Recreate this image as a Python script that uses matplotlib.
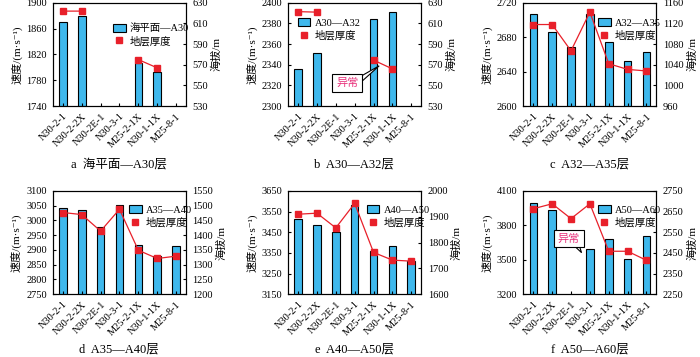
import matplotlib
matplotlib.use("Agg")
import matplotlib.pyplot as plt
from matplotlib.patches import Patch, Polygon
from matplotlib.lines import Line2D
import numpy as np

plt.rcParams['font.family'] = ['Liberation Serif', 'Noto Sans CJK SC', 'DejaVu Sans']
plt.rcParams['axes.unicode_minus'] = False

nan = np.nan

# Скважины
wells = ['N30-2-1', 'N30-2-2X', 'N30-2E-1', 'N30-3-1', 'M25-2-1X', 'N30-1-1X', 'M25-8-1']

# Скорость (левая ось) по слоям
speed_a = [1870, 1880, nan, nan, 1807, 1793, nan]
speed_b = [2336, 2351, nan, nan, 2384, 2391, nan]
speed_c = [2707, 2686, 2669, 2707, 2674, 2652, 2663]
speed_d = [3043, 3036, 2979, 3053, 2917, 2881, 2914]
speed_e = [3515, 3484, 3451, 3582, 3360, 3383, 3310]
speed_f = [3997, 3938, nan, 3590, 3678, 3508, 3704]

# Высота / толщина слоя (правая ось)
elev_a = [622, 622, nan, nan, 575, 567, nan]
elev_b = [621.5, 621, nan, nan, 574.5, 566, nan]
elev_c = [1118, 1118, 1067, 1142, 1042, 1031, 1028]
elev_d = [1477, 1470, 1414, 1488, 1349, 1321, 1329]
elev_e = [1910, 1914, 1857, 1952, 1762, 1732, 1728]
elev_f = [2664, 2688, 2616, 2688, 2458, 2458, 2414]

series_names = ['海平面—A30', 'A30—A32', 'A32—A35', 'A35—A40', 'A40—A50', 'A50—A60']
captions = ['a  海平面—A30层', 'b  A30—A32层', 'c  A32—A35层',
            'd  A35—A40层', 'e  A40—A50层', 'f  A50—A60层']

left_lims = [(1740, 1900, 40), (2300, 2400, 20), (2600, 2720, 40),
             (2750, 3100, 50), (3150, 3650, 100), (3200, 4100, 300)]
right_lims = [(530, 630, 20), (530, 630, 20), (960, 1160, 40),
              (1200, 1550, 50), (1600, 2000, 100), (2250, 2750, 100)]

speeds = [speed_a, speed_b, speed_c, speed_d, speed_e, speed_f]
elevs = [elev_a, elev_b, elev_c, elev_d, elev_e, elev_f]

lefts = [0.075, 0.411, 0.747]
bottoms = [0.703, 0.176]
w, h = 0.19, 0.289
legend_pos = [(0.44, 0.82), (0.06, 0.87), (0.55, 0.87),
              (0.56, 0.88), (0.58, 0.88), (0.55, 0.88)]

bar_color = '#3fb8ec'
red = '#e8202a'
pink = '#e8307a'


def callout(ax, text_xy, base1, base2, tip):
    # выноска "异常": хвост под белой рамкой
    ax.add_patch(Polygon([base1, tip, base2], closed=True, fc='white',
                         ec='black', lw=0.8, zorder=4))
    ax.text(*text_xy, '异常', color=pink, fontsize=8, ha='center', va='center', zorder=5,
            bbox=dict(boxstyle='square,pad=0.35', fc='white', ec='black', lw=0.8))


fig = plt.figure(figsize=(7, 3.57), dpi=100)
x = np.arange(len(wells))

for i in range(6):
    ax = fig.add_axes([lefts[i % 3], bottoms[i // 3], w, h])
    ax2 = ax.twinx()
    ax.bar(x, speeds[i], width=0.4, color=bar_color, edgecolor='black', linewidth=0.8)
    ax2.plot(x, elevs[i], color=red, linewidth=0.9, marker='s', markersize=4)

    lo, hi, st = left_lims[i]
    ax.set_ylim(lo, hi)
    ax.set_yticks(np.arange(lo, hi + 1, st))
    lo, hi, st = right_lims[i]
    ax2.set_ylim(lo, hi)
    ax2.set_yticks(np.arange(lo, hi + 1, st))
    ax.set_xlim(-0.55, 6.5)
    ax.set_xticks(x)
    ax.set_xticklabels(wells, rotation=45, ha='right', rotation_mode='anchor', fontsize=7.5)
    ax.tick_params(axis='both', direction='in', length=2.5, labelsize=7.5, pad=4)
    ax2.tick_params(axis='y', direction='in', length=2.5, labelsize=7.5, pad=5)
    ax.set_ylabel('速度/(m·s⁻¹)', fontsize=8, labelpad=3)
    ax2.set_ylabel('海拔/m', fontsize=8, labelpad=2.5)

    handles = [Patch(facecolor=bar_color, edgecolor='black', linewidth=0.8),
               Line2D([], [], color=red, marker='s', linestyle='none', markersize=4)]
    ax2.legend(handles, [series_names[i], '地层厚度'], loc='upper left',
               bbox_to_anchor=legend_pos[i], frameon=False, fontsize=7.5,
               handlelength=1.2, handleheight=0.8, handletextpad=0.4,
               borderpad=0.2, borderaxespad=0, labelspacing=0.25)

    fig.text(lefts[i % 3] + w / 2, 0.522 if i < 3 else 0.003, captions[i],
             ha='center', va='bottom', fontsize=9)

    if i == 1:
        callout(ax, (2.6, 2322), (2.96, 2325), (2.96, 2317), (4.3, 2339))
    if i == 5:
        callout(ax, (1.88, 3685), (1.99, 3650), (2.3, 3694), (2.56, 3562))

fig.savefig('out.png', dpi=100)
